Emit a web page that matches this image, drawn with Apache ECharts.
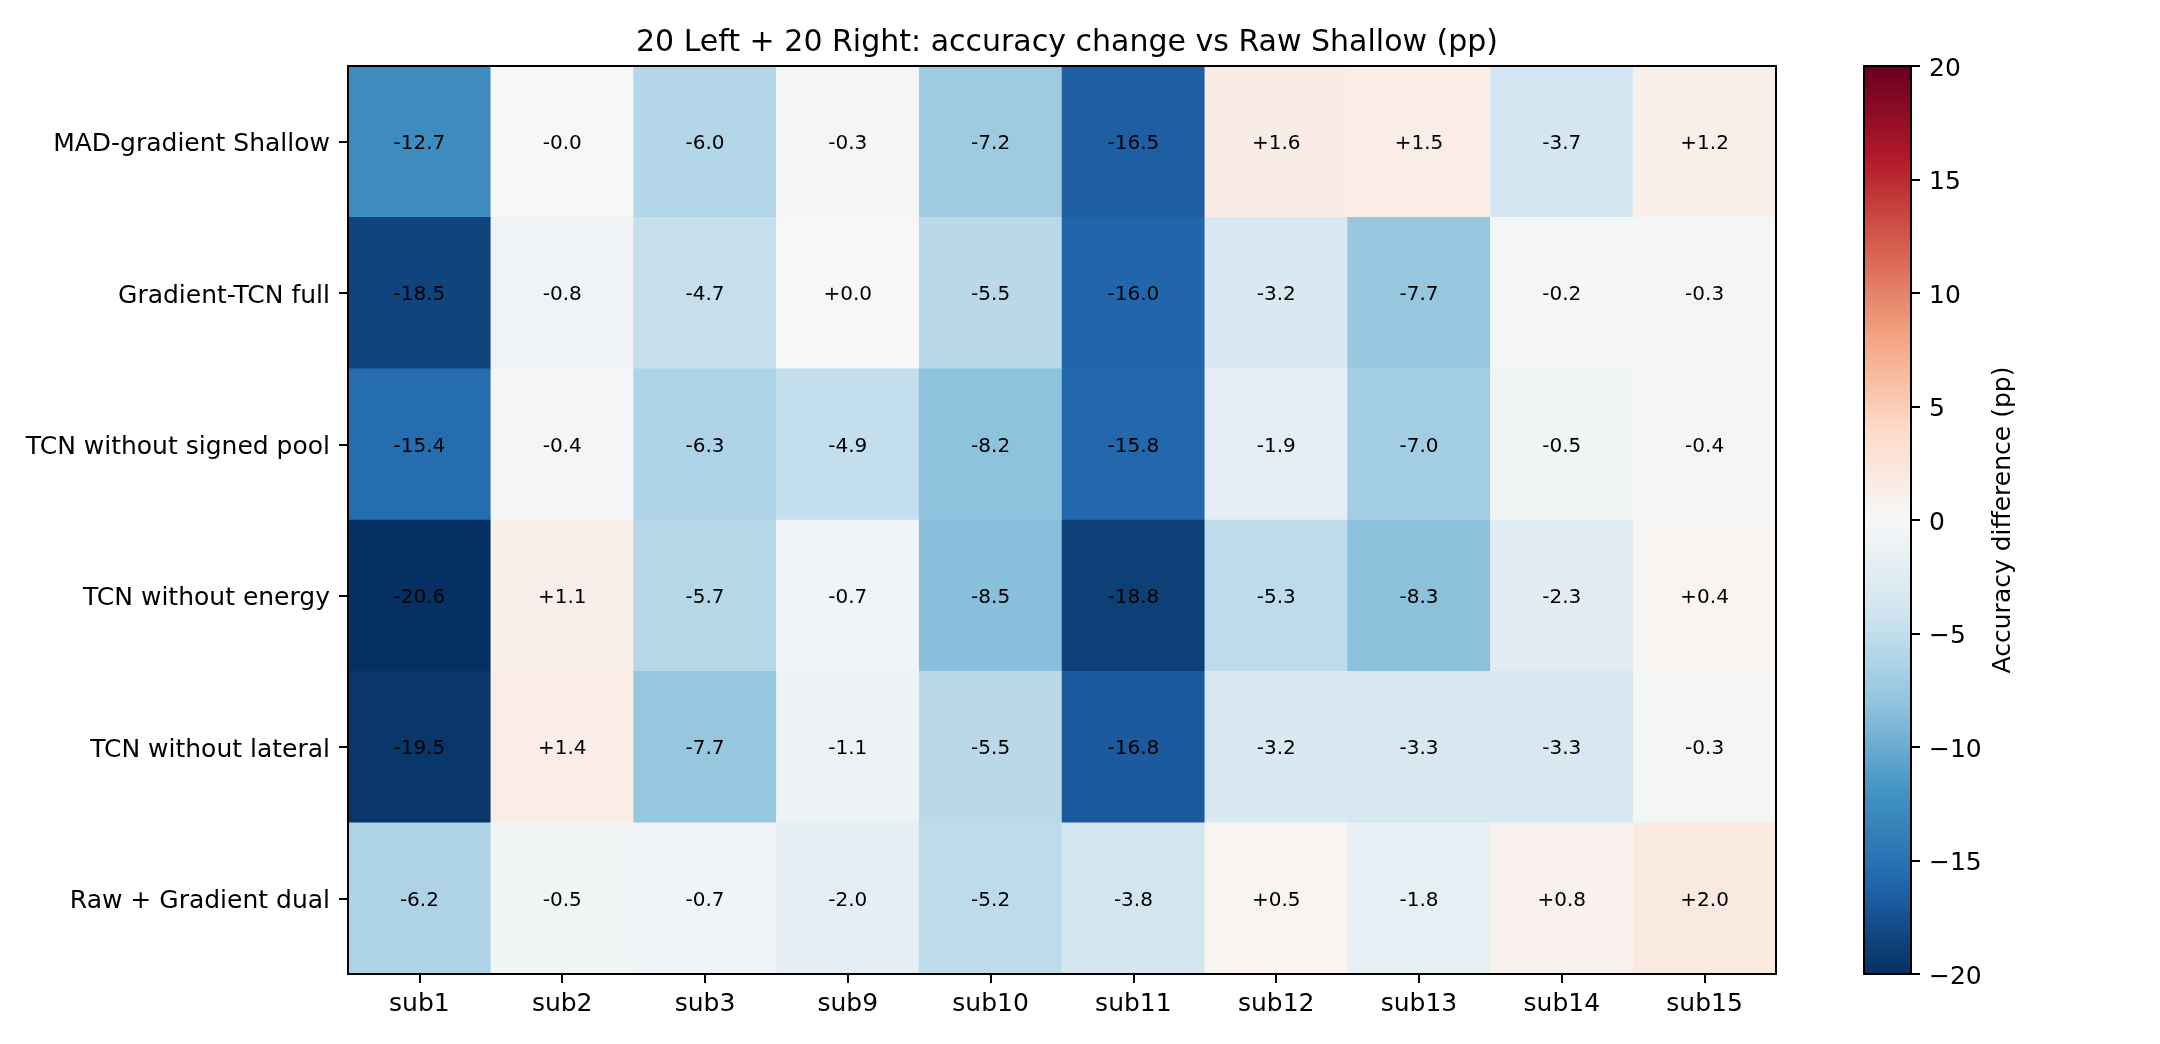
<!DOCTYPE html>
<html>
<head>
<meta charset="utf-8">
<script src="https://cdn.jsdelivr.net/npm/echarts@6/dist/echarts.min.js"></script>
<style>
html,body{margin:0;padding:0;background:#fff;}
#chart{width:2160px;height:1044px;}
</style>
</head>
<body>
<div id="chart"></div>
<script>
// columns / rows of the heatmap
var subjects = ['sub1','sub2','sub3','sub9','sub10','sub11','sub12','sub13','sub14','sub15'];
var models = ['MAD-gradient Shallow','Gradient-TCN full','TCN without signed pool','TCN without energy','TCN without lateral','Raw + Gradient dual'];

// accuracy change (pp) per row
var madGradientShallow = [-12.7, -0.01, -6.0, -0.3, -7.2, -16.5, 1.6, 1.5, -3.7, 1.2];
var gradientTcnFull    = [-18.5, -0.8, -4.7, 0.01, -5.5, -16.0, -3.2, -7.7, -0.2, -0.3];
var tcnNoSignedPool    = [-15.4, -0.4, -6.3, -4.9, -8.2, -15.8, -1.9, -7.0, -0.5, -0.4];
var tcnNoEnergy        = [-20.6, 1.1, -5.7, -0.7, -8.5, -18.8, -5.3, -8.3, -2.3, 0.4];
var tcnNoLateral       = [-19.5, 1.4, -7.7, -1.1, -5.5, -16.8, -3.2, -3.3, -3.3, -0.3];
var rawGradientDual    = [-6.2, -0.5, -0.7, -2.0, -5.2, -3.8, 0.5, -1.8, 0.8, 2.0];

var colorRange = [-20, 20];
var colorbarTicks = 5;

// RdBu_r, low -> high
var rdbu = ['#053061','#2166ac','#4393c3','#92c5de','#d1e5f0','#f7f7f7','#fddbc7','#f4a582','#d6604d','#b2182b','#67001f'];

var rows = [madGradientShallow, gradientTcnFull, tcnNoSignedPool, tcnNoEnergy, tcnNoLateral, rawGradientDual];
var cells = [];
rows.forEach(function(r, yi){
	r.forEach(function(v, xi){
		cells.push([xi, yi, v]);
	});
});

function fmtSigned(v){
	return (v >= 0 ? '+' : '-') + Math.abs(v).toFixed(1);
}

// gradient stops for the two halves of the colorbar
var upStops = [], downStops = [];
for (var i = 0; i <= 5; i++) {
	upStops.push({offset: i / 5, color: rdbu[10 - i]});
	downStops.push({offset: i / 5, color: rdbu[5 - i]});
}

var FONT = 'DejaVu Sans';
// labels pushed down a few px, like matplotlib's centring
var lowRich = {a: {fontSize: 25, color: '#000', fontFamily: FONT, padding: [6, 0, 0, 0]}};

var myChart = echarts.init(document.getElementById('chart'));
var option = {
	backgroundColor: '#fff',
	animation: false,
	textStyle: {fontFamily: FONT},
	title: {
		text: '20 Left + 20 Right: accuracy change vs Raw Shallow (pp)',
		left: 1062,
		top: 23,
		textAlign: 'center',
		textStyle: {fontFamily: FONT, fontSize: 30, fontWeight: 'normal', color: '#000'}
	},
	grid: [
		{left: 348, top: 66, width: 1428, height: 908},
		{left: 1864, top: 66, width: 47, height: 908}
	],
	visualMap: {
		show: false,
		seriesIndex: 0,
		min: colorRange[0],
		max: colorRange[1],
		inRange: {color: rdbu}
	},
	xAxis: [{
		type: 'category',
		gridIndex: 0,
		data: subjects,
		z: 10,
		splitArea: {show: false},
		axisLine: {show: true, lineStyle: {color: '#000', width: 2}},
		axisTick: {show: true, alignWithLabel: true, length: 9, lineStyle: {color: '#000', width: 2}},
		axisLabel: {fontSize: 25, color: '#000', margin: 18, fontFamily: FONT}
	}, {
		type: 'category',
		gridIndex: 1,
		data: ['cb'],
		show: false
	}],
	yAxis: [{
		type: 'category',
		gridIndex: 0,
		data: models,
		inverse: true,
		z: 10,
		splitArea: {show: false},
		axisLine: {show: true, lineStyle: {color: '#000', width: 2}},
		axisTick: {show: true, alignWithLabel: true, length: 9, lineStyle: {color: '#000', width: 2}},
		axisLabel: {
			margin: 18, rich: lowRich,
			formatter: function(v){ return '{a|' + v + '}'; }
		}
	}, {
		type: 'value',
		gridIndex: 1,
		position: 'right',
		min: colorRange[0],
		max: colorRange[1],
		interval: colorbarTicks,
		z: 10,
		splitLine: {show: false},
		axisLine: {show: true, lineStyle: {color: '#000', width: 2}},
		axisTick: {show: true, length: 9, lineStyle: {color: '#000', width: 2}},
		axisLabel: {
			margin: 18, rich: lowRich,
			formatter: function(v){ return '{a|' + (v < 0 ? '\u2212' + Math.abs(v) : String(v)) + '}'; }
		},
		name: 'Accuracy difference (pp)',
		nameLocation: 'middle',
		nameRotate: 90,
		nameGap: 80,
		nameTextStyle: {fontSize: 25, color: '#000', fontFamily: FONT}
	}],
	graphic: [{
		type: 'rect',
		z: 100,
		shape: {x: 348, y: 66, width: 1428, height: 908},
		style: {fill: 'none', stroke: '#000', lineWidth: 2}
	}, {
		type: 'rect',
		z: 100,
		shape: {x: 1864, y: 66, width: 47, height: 908},
		style: {fill: 'none', stroke: '#000', lineWidth: 2}
	}],
	series: [{
		type: 'heatmap',
		xAxisIndex: 0,
		yAxisIndex: 0,
		data: cells,
		label: {
			show: true,
			fontSize: 20,
			color: '#000',
			fontFamily: FONT,
			offset: [0, 2],
			formatter: function(p){ return fmtSigned(p.value[2]); }
		},
		itemStyle: {borderWidth: 0}
	}, {
		type: 'bar',
		xAxisIndex: 1,
		yAxisIndex: 1,
		stack: 'cb',
		barWidth: '100%',
		data: [colorRange[1]],
		itemStyle: {color: new echarts.graphic.LinearGradient(0, 0, 0, 1, upStops)}
	}, {
		type: 'bar',
		xAxisIndex: 1,
		yAxisIndex: 1,
		stack: 'cb',
		barWidth: '100%',
		data: [colorRange[0]],
		itemStyle: {color: new echarts.graphic.LinearGradient(0, 0, 0, 1, downStops)}
	}]
};
if (option && typeof option === "object") {
	myChart.setOption(option, true);
}
</script>
</body>
</html>
